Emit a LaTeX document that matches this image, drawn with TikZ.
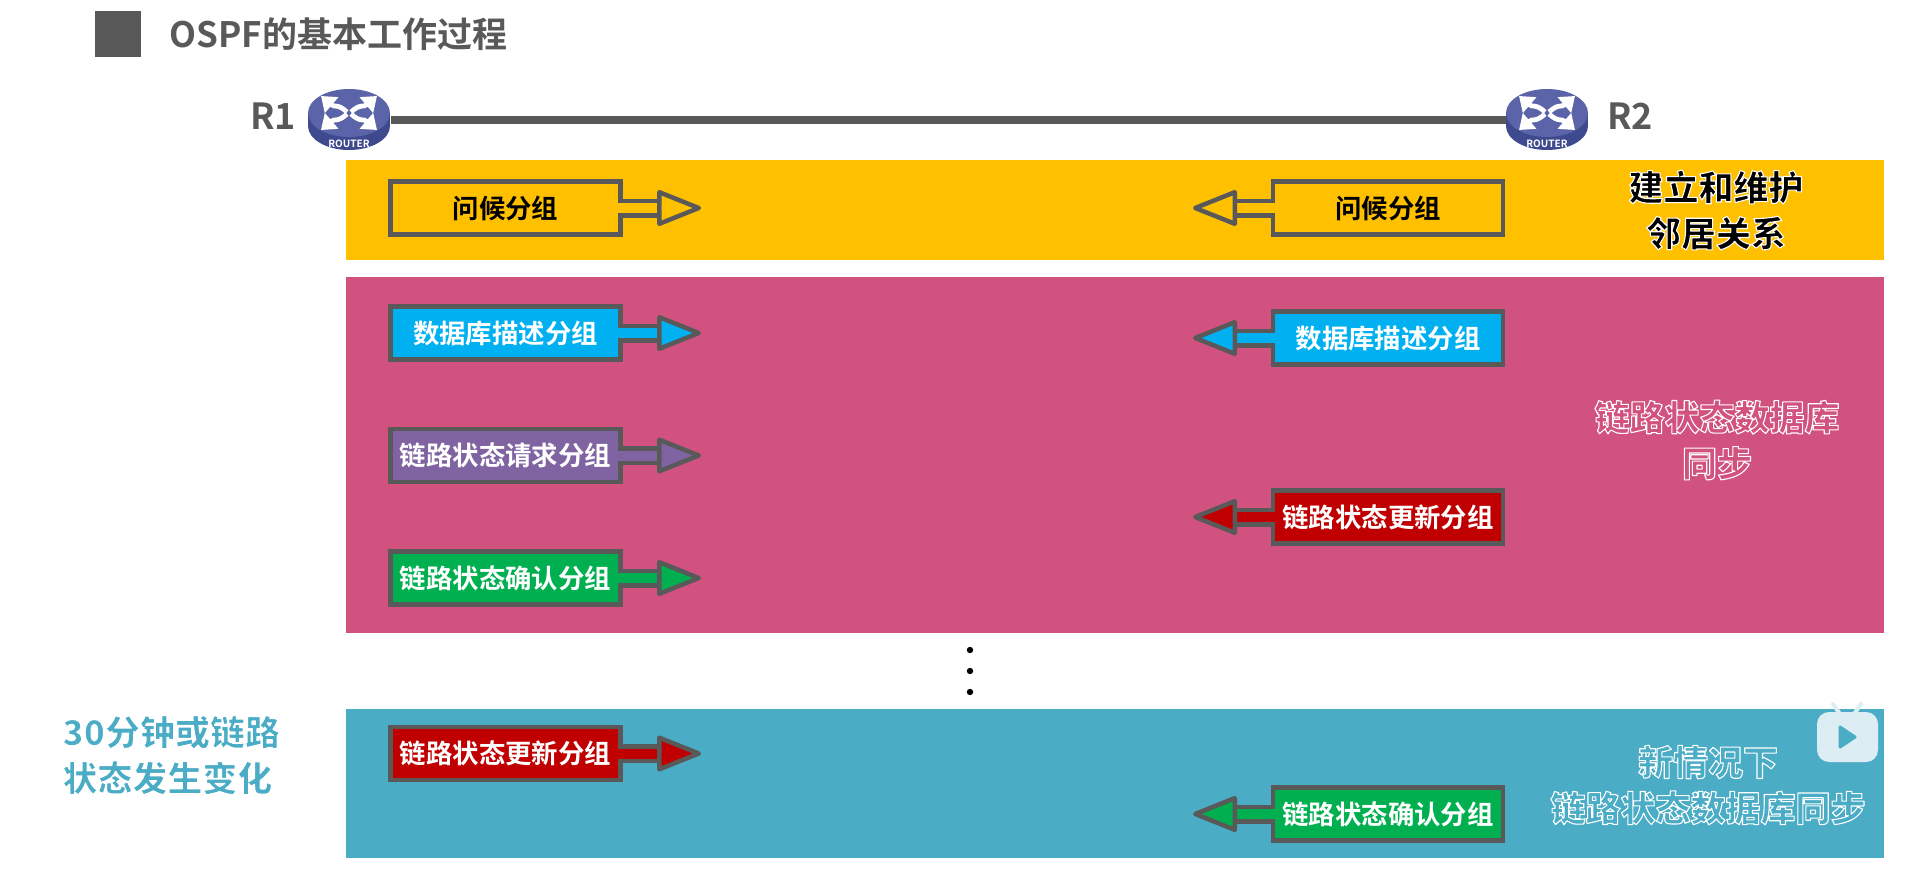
\documentclass[tikz,border=0pt]{standalone}
\usepackage{fontspec}
\setmainfont{Noto Sans CJK SC}[BoldFont={* Bold}]
\newfontfamily\lblfont{Noto Sans CJK SC Black}
\usetikzlibrary{arrows.meta, shapes.geometric}
\definecolor{bandyellow}{HTML}{FFC000}
\definecolor{bandpink}{HTML}{D2527F}
\definecolor{bandteal}{HTML}{4BACC6}
\definecolor{pktline}{HTML}{595959}
\definecolor{pktblue}{HTML}{00B0F0}
\definecolor{pktpurple}{HTML}{8064A2}
\definecolor{pktred}{HTML}{C00000}
\definecolor{pktgreen}{HTML}{00B050}
\definecolor{routertop}{HTML}{5B64A8}
\definecolor{routerside}{HTML}{3F4A8E}
\definecolor{tvicon}{HTML}{DCEEF4}
\tikzset{
  band/.style    = {rectangle, inner sep=0pt, outer sep=0pt, minimum width=769pt},
  pkt/.style     = {rectangle, draw=pktline, line width=2.25pt, fill=#1, text=white, inner sep=0pt, outer sep=0pt,
                    minimum width=115pt, minimum height=26.5pt, font=\fontsize{13.2}{15}\selectfont\bfseries},
  pktflow/.style = {draw=pktline, double=#1, double distance=5pt, line width=2.25pt, line join=round, shorten <=-1.2pt,
                    -{Triangle[length=24pt, width=18.5pt, line width=2.25pt, fill=#1, round]}},
  bandlbl/.style = {align=center, inner sep=0pt, font=\fontsize{17.5}{23}\selectfont\lblfont},
  routername/.style = {inner sep=0pt, text=pktline, font=\fontsize{18}{20}\selectfont\bfseries},
  routerbody/.style = {ellipse, inner sep=0pt, outer sep=0pt, minimum width=41.5pt, minimum height=31pt},
  routerarrow/.style = {white, line width=2.4pt, -{Triangle[length=7pt, width=10pt]}},
  pdot/.style    = {circle, fill=black, inner sep=0pt, minimum size=3.2pt},
}
% outlined label text
\newcommand{\halotxt}[2][0.55]{{\special{pdf: code #1 w 1 j 1 1 1 RG 2 Tr}#2\special{pdf: code 0 Tr}}}
\newcommand{\routerfig}[3]{%
	\node[routerbody] (#1) at (#2,#3) {};
	\begin{scope}[shift={(#1)}]
		\fill[routerside] (-41,-7) rectangle (41,6);
		\fill[routerside] (0,6) ellipse [x radius=41, y radius=24];
		\fill[routertop] (0,-7) ellipse [x radius=41, y radius=24];
		\foreach \sx/\sy in {1/1,-1/1,1/-1,-1/-1}{
			\draw[routerarrow] ({\sx*2},{-7+\sy*1}) .. controls ({\sx*12},{-7+\sy*10}) and ({\sx*14},{-7+\sy*5}) .. ({\sx*28},{-7+\sy*17});
		}
		\node[text=white, inner sep=0pt, font=\fontsize{5}{5}\selectfont\bfseries] (#1lbl) at (0,24) {ROUTER};
	\end{scope}
}

\begin{document}
\begin{tikzpicture}[x=0.5pt, y=-0.5pt]
	\useasboundingbox (0,0) rectangle (1920,888);
	\node[rectangle, fill=pktline, inner sep=0pt, minimum size=23pt] (mark) at (118,34) {};
	\node[anchor=west, inner sep=0pt, text=pktline, font=\fontsize{17.5}{20}\selectfont\bfseries] (title) at (169,34) {OSPF的基本工作过程};

	\routerfig{r1}{349}{120}
	\routerfig{r2}{1547}{120}
	\node[routername] (r1name) at (273,116) {R1};
	\node[routername] (r2name) at (1630,116) {R2};
	\draw[pktline, line width=3.6pt] (r1.east) -- (r2.west);

	\node[band, fill=bandyellow, minimum height=50pt] (neighbor) at (1115,210) {};
	\node[band, fill=bandpink, minimum height=178pt] (sync) at (1115,455) {};
	\node[band, fill=bandteal, minimum height=74.5pt] (resync) at (1115,783.5) {};

	\node[pkt=bandyellow, text=black] (helloL) at (505.5,208) {问候分组};
	\node[pkt=bandyellow, text=black] (helloR) at (1388,208) {问候分组};
	\node[pkt=pktblue] (ddL) at (505.5,333) {数据库描述分组};
	\node[pkt=pktblue] (ddR) at (1388,338) {数据库描述分组};
	\node[pkt=pktpurple] (lsrL) at (505.5,455.5) {链路状态请求分组};
	\node[pkt=pktred] (lsuR) at (1388,517) {链路状态更新分组};
	\node[pkt=pktgreen] (lsaL) at (505.5,578) {链路状态确认分组};
	\node[pkt=pktred] (lsuL) at (505.5,753.5) {链路状态更新分组};
	\node[pkt=pktgreen] (lsaR) at (1388,814) {链路状态确认分组};

	\foreach \a/\ty in {helloL/208,ddL/333,lsrL/455.5,lsaL/578,lsuL/753.5}{\coordinate (\a tip) at (701,\ty);}
	\foreach \a/\ty in {helloR/208,ddR/338,lsuR/517,lsaR/814}{\coordinate (\a tip) at (1193,\ty);}
	\foreach \a/\c in {helloL/bandyellow,helloR/bandyellow,ddL/pktblue,ddR/pktblue,lsrL/pktpurple,lsuR/pktred,lsaL/pktgreen,lsuL/pktred,lsaR/pktgreen}{\draw[pktflow=\c] (\a) -- (\a tip);}

	\node[bandlbl] (neighborlbl) at (1716,210) {\halotxt{建立和维护}\\\halotxt{邻居关系}};
	\node[bandlbl, text=bandpink] (synclbl) at (1717,440) {\halotxt{链路状态数据库}\\\halotxt{同步}};
	\node[bandlbl, text=bandteal] (resynclbl) at (1708,785) {\halotxt{新情况下}\\\halotxt{链路状态数据库同步}};
	\node[bandlbl, text=bandteal, align=left, anchor=west] (triggerlbl) at (62,755) {\halotxt{30分钟或链路}\\\halotxt{状态发生变化}};

	\node[pdot] (dot1) at (970,650) {};
	\node[pdot] (dot2) at (970,671) {};
	\node[pdot] (dot3) at (970,692) {};

	% watermark
	\draw[tvicon, line width=2pt, line cap=round] (1840,714) -- (1833,704) (1854,714) -- (1861,704);
	\fill[tvicon, rounded corners=6pt] (1817,712) rectangle (1878,762);
	\fill[bandteal, line join=round, draw=bandteal, line width=1.5pt] (1840,727) -- (1855,737) -- (1840,747) -- cycle;
\end{tikzpicture}
\end{document}
